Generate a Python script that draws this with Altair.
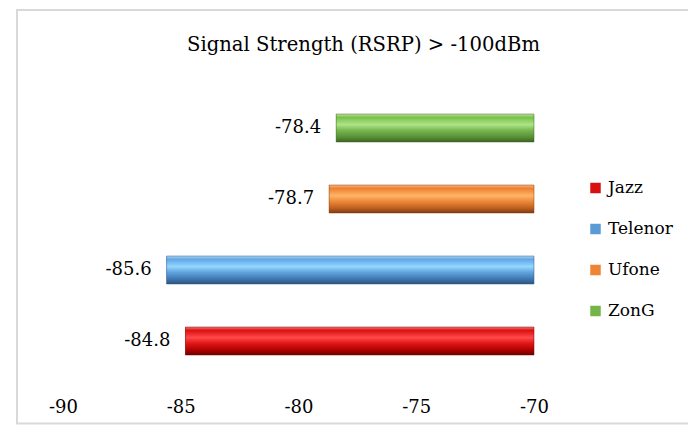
import altair as alt
import pandas as pd

operators = ["Jazz", "Telenor", "Ufone", "ZonG"]
rsrp = [-84.8, -85.6, -78.7, -78.4]
base_value = -70
tick_values = [-90, -85, -80, -75, -70]
main_colors = ["#d81010", "#5b9bd5", "#ee8434", "#74b548"]
gradients = {
    "Jazz": ["#f07a7a", "#dc1010", "#ff4848", "#e01818", "#b00000", "#6e0000"],
    "Telenor": ["#b0d4f0", "#5ea8e8", "#96d6ff", "#60a4e0", "#4078b0", "#2a5580"],
    "Ufone": ["#f8b888", "#ee8030", "#ffb466", "#ee8a3a", "#c06020", "#7e3a10"],
    "ZonG": ["#bfe3a8", "#78c048", "#aee488", "#78b850", "#5a9038", "#3a6422"],
}
stop_pos = [0, 0.12, 0.38, 0.58, 0.82, 1]

df = pd.DataFrame({
    "Operator": operators,
    "RSRP": rsrp,
    "Base": [base_value] * len(operators),
    "Label": [f"{v:.1f}" for v in rsrp],
})

FONT = "DejaVu Serif"
y_order = operators[::-1]

y_enc = alt.Y("Operator:N", sort=y_order, axis=None,
              scale=alt.Scale(paddingInner=0.6, paddingOuter=0.3))

base_bars = alt.Chart(df).mark_bar(size=28).encode(
    y=y_enc,
    x=alt.X("RSRP:Q", scale=alt.Scale(domain=[-90, -70], nice=False),
            axis=alt.Axis(values=tick_values, domain=False, ticks=False, grid=False,
                          labelFlush=False, labelExpr="'' + datum.value",
                          labelFont=FONT, labelFontSize=18, labelColor="#000000",
                          labelPadding=22, title=None)),
    x2="Base:Q",
    color=alt.Color("Operator:N", scale=alt.Scale(domain=operators, range=main_colors),
                    legend=alt.Legend(title=None, orient="none", legendX=524, legendY=87,
                                      symbolType="square", symbolSize=110,
                                      symbolStrokeWidth=0, labelFont=FONT,
                                      labelFontSize=17, labelColor="#000000",
                                      rowPadding=23, labelOffset=4)),
)

layers = [base_bars]
for op in operators:
    cols = gradients[op]
    grad = alt.Gradient(
        gradient="linear", x1=0, x2=0, y1=0, y2=1,
        stops=[alt.GradientStop(offset=o, color=c) for o, c in zip(stop_pos, cols)],
    )
    layers.append(
        alt.Chart(df).transform_filter(alt.datum.Operator == op)
        .mark_bar(size=28, color=grad, stroke=cols[-1], strokeWidth=0.8, strokeOpacity=0.6)
        .encode(y=y_enc, x="RSRP:Q", x2="Base:Q")
    )

labels = alt.Chart(df).mark_text(align="right", baseline="middle", dx=-15,
                                 font=FONT, fontSize=18, color="#000000").encode(
    y=y_enc, x="RSRP:Q", text="Label:N"
)
layers.append(labels)

frame = alt.Chart(pd.DataFrame({"a": [0]})).mark_rect(
    fill=None, stroke="#d9d9d9", strokeWidth=2
).encode(x=alt.value(-46), x2=alt.value(660), y=alt.value(-82.5), y2=alt.value(331))

chart = alt.layer(frame, *layers).properties(
    width=471, height=284,
    title=alt.TitleParams("Signal Strength (RSRP) > -100dBm", font=FONT, fontSize=19.6,
                          fontWeight="normal", color="#000000", anchor="middle",
                          frame="group", dx=65, offset=-47),
    autosize=alt.AutoSizeParams(type="none"),
    padding={"left": 55, "top": 84.5, "right": 154, "bottom": 48.5},
).configure_view(stroke=None)

chart.save("out.html", embed_options={"renderer": "svg", "actions": False})
